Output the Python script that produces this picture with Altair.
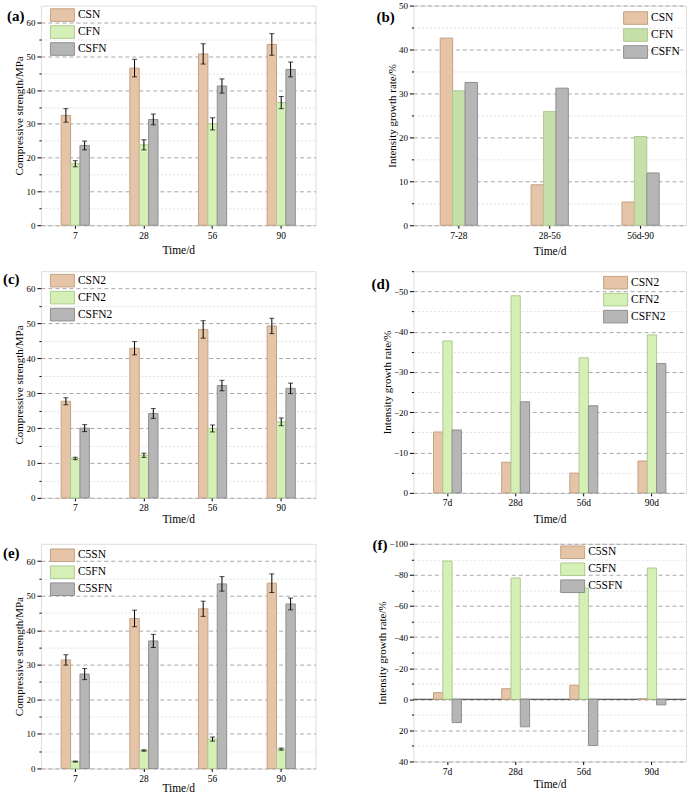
import altair as alt
import pandas as pd

FONT = "Liberation Serif"

days = ["7", "28", "56", "90"]
days_d = ["7d", "28d", "56d", "90d"]
periods = ["7-28", "28-56", "56d-90"]

# (a) compressive strength
a_series = ["CSN", "CFN", "CSFN"]
a_CSN = [32.5, 46.5, 50.7, 53.5]
a_CSN_err = [2.0, 2.6, 3.0, 3.2]
a_CFN = [18.2, 23.8, 30.0, 36.3]
a_CFN_err = [0.9, 1.5, 1.8, 1.8]
a_CSFN = [23.6, 31.3, 41.2, 46.1]
a_CSFN_err = [1.3, 1.6, 2.1, 2.2]

# (b) intensity growth rate
b_series = ["CSN", "CFN", "CSFN"]
b_CSN = [42.6, 9.2, 5.3]
b_CFN = [30.6, 25.9, 20.2]
b_CSFN = [32.5, 31.2, 11.9]

# (c) compressive strength
c_series = ["CSN2", "CFN2", "CSFN2"]
c_CSN2 = [27.7, 42.9, 48.3, 49.3]
c_CSN2_err = [1.0, 1.9, 2.5, 2.2]
c_CFN2 = [11.3, 12.2, 19.9, 21.8]
c_CFN2_err = [0.35, 0.6, 1.0, 1.1]
c_CSFN2 = [20.0, 24.2, 32.2, 31.4]
c_CSFN2_err = [1.0, 1.4, 1.5, 1.5]

# (d) intensity growth rate
d_series = ["CSN2", "CFN2", "CSFN2"]
d_CSN2 = [-15.1, -7.6, -4.9, -7.9]
d_CFN2 = [-37.7, -48.9, -33.5, -39.2]
d_CSFN2 = [-15.6, -22.6, -21.6, -32.1]

# (e) compressive strength
e_series = ["C5SN", "C5FN", "C5SFN"]
e_C5SN = [31.4, 43.4, 46.2, 53.6]
e_C5SN_err = [1.5, 2.4, 2.2, 2.7]
e_C5FN = [2.0, 5.2, 8.5, 5.6]
e_C5FN_err = [0.15, 0.2, 0.6, 0.3]
e_C5SFN = [27.3, 36.9, 53.4, 47.6]
e_C5SFN_err = [1.6, 1.9, 2.1, 1.7]

# (f) intensity growth rate
f_series = ["C5SN", "C5FN", "C5SFN"]
f_C5SN = [-4.3, -6.8, -9.0, -0.3]
f_C5FN = [-88.9, -78.0, -71.6, -84.4]
f_C5SFN = [15.0, 17.7, 29.7, 3.6]

TAN, TAN_S = "#E6C4A7", "#C4A284"
GREEN, GREEN_S = "#D6EFB6", "#AFCB93"
GREEN_B = "#C7DFA8"
GRAY, GRAY_S = "#B6B6B6", "#8F8F8F"


def make_df(cats, series, values, errs=None):
    rows = []
    for k, s in enumerate(series):
        for i, c in enumerate(cats):
            r = {"cat": c, "series": s, "value": values[k][i]}
            if errs is not None:
                r["lo"] = values[k][i] - errs[k][i]
                r["hi"] = values[k][i] + errs[k][i]
            rows.append(r)
    return pd.DataFrame(rows)


def cond(test, a, b):
    return {"condition": {"test": test, "value": a}, "value": b}


def panel(df, cats, series, fills, strokes, domain, reverse, tick_vals, major,
          ytitle, label, lx, ly, width, height, lgx, lgy, xtitle_pad,
          has_err=True, zero_rule=False):
    test = f"abs(datum.value % {major}) < 0.001"
    xscale = alt.Scale(paddingInner=0.59, paddingOuter=0.295)
    xaxis = alt.Axis(title="Time/d", labelAngle=0, labelFontSize=9.5, titleFontSize=11.5,
                     tickSize=3, labelPadding=2, titlePadding=xtitle_pad, domain=False,
                     grid=False, tickColor="black", labelColor="black",
                     titleColor="black", titleFontWeight="normal",
                     labelFont=FONT, titleFont=FONT)
    yscale = alt.Scale(domain=domain, reverse=reverse, nice=False, zero=False)
    yaxis = alt.Axis(title=ytitle, values=tick_vals,
                     labelExpr=f"{test} ? datum.label : ''",
                     grid=True,
                     gridDash=cond(test, [4, 3], [2, 2]),
                     gridColor=cond(test, "#A8A8A8", "#E2E2E2"),
                     tickSize=cond(test, 4, 2),
                     domain=False, tickColor="black", labelColor="black",
                     labelFontSize=9, titleFontSize=11, labelPadding=2,
                     titlePadding=1, titleColor="black", titleFontWeight="normal",
                     labelFont=FONT, titleFont=FONT)
    X = alt.X("cat:N", sort=cats, scale=xscale, axis=xaxis)
    XO = alt.XOffset("series:N", sort=series,
                     scale=alt.Scale(paddingInner=0, paddingOuter=0))
    leg = alt.Legend(title=None, orient="none", legendX=lgx + 6, legendY=lgy,
                     symbolType="M-2,-1.05H2V1.05H-2Z", symbolSize=144,
                     symbolStrokeWidth=1, labelFontSize=11.5, labelFont=FONT,
                     labelColor="black", rowPadding=0, padding=0, labelOffset=9,
                     labelLimit=0)
    base = alt.Chart(df)
    bars = base.mark_bar(strokeWidth=1).encode(
        x=X, xOffset=XO,
        y=alt.Y("value:Q", scale=yscale, axis=yaxis),
        color=alt.Color("series:N", sort=series,
                        scale=alt.Scale(domain=series, range=fills), legend=leg),
        stroke=alt.Stroke("series:N", sort=series,
                          scale=alt.Scale(domain=series, range=strokes), legend=leg),
    )
    layers = []
    if zero_rule:
        zr = alt.Chart(pd.DataFrame({"value": [0]})).mark_rule(
            color="#333333", strokeWidth=1).encode(
            y=alt.Y("value:Q", scale=yscale, axis=yaxis))
        layers.append(zr)
    layers.append(bars)
    if has_err:
        rule = base.mark_rule(color="black", strokeWidth=1).encode(
            x=X, xOffset=XO,
            y=alt.Y("lo:Q", scale=yscale, axis=yaxis), y2="hi:Q")
        cap_lo = base.mark_tick(color="black", size=5, thickness=1).encode(
            x=X, xOffset=XO, y=alt.Y("lo:Q", scale=yscale, axis=yaxis))
        cap_hi = base.mark_tick(color="black", size=5, thickness=1).encode(
            x=X, xOffset=XO, y=alt.Y("hi:Q", scale=yscale, axis=yaxis))
        layers += [rule, cap_lo, cap_hi]
    lab = alt.Chart(pd.DataFrame({"t": [label]})).mark_text(
        align="left", baseline="middle", fontSize=15, fontWeight="bold",
        font=FONT, color="black").encode(
        text="t:N", x=alt.value(lx), y=alt.value(ly))
    layers.append(lab)
    return alt.layer(*layers).properties(width=width, height=height)


ticks65 = list(range(0, 65, 5))
ticks50 = list(range(0, 55, 5))
ticksd = list(range(-55, 5, 5))
ticksf = list(range(-100, 50, 10))

pa = panel(make_df(days, a_series, [a_CSN, a_CFN, a_CSFN], [a_CSN_err, a_CFN_err, a_CSFN_err]),
           days, a_series, [TAN, GREEN, GRAY], [TAN_S, GREEN_S, GRAY_S],
           [0, 65], False, ticks65, 10, "Compressive strength/MPa", "(a)", -34, 10,
           275, 220, 9, 3, 5)
pb = panel(make_df(periods, b_series, [b_CSN, b_CFN, b_CSFN]),
           periods, b_series, [TAN, GREEN_B, GRAY], [TAN_S, GREEN_S, GRAY_S],
           [0, 50], False, ticks50, 10, "Intensity growth rate/%", "(b)", -37, 11,
           273, 220, 210, 6, 6, has_err=False)
pc = panel(make_df(days, c_series, [c_CSN2, c_CFN2, c_CSFN2], [c_CSN2_err, c_CFN2_err, c_CSFN2_err]),
           days, c_series, [TAN, GREEN, GRAY], [TAN_S, GREEN_S, GRAY_S],
           [0, 65], False, ticks65, 10, "Compressive strength/MPa", "(c)", -38, 8,
           275, 227, 9, 3, 1)
pd_ = panel(make_df(days_d, d_series, [d_CSN2, d_CFN2, d_CSFN2]),
            days_d, d_series, [TAN, GREEN, GRAY], [TAN_S, GREEN_S, GRAY_S],
            [-55, 0], True, ticksd, 10, "Intensity growth rate/%", "(d)", -42, 13,
            273, 222, 190, 5, 6, has_err=False)
pe = panel(make_df(days, e_series, [e_C5SN, e_C5FN, e_C5SFN], [e_C5SN_err, e_C5FN_err, e_C5SFN_err]),
           days, e_series, [TAN, GREEN, GRAY], [TAN_S, GREEN_S, GRAY_S],
           [0, 65], False, ticks65, 10, "Compressive strength/MPa", "(e)", -38, 9,
           275, 225, 9, 5, 0)
pf = panel(make_df(days_d, f_series, [f_C5SN, f_C5FN, f_C5SFN]),
           days_d, f_series, [TAN, GREEN, GRAY], [TAN_S, GREEN_S, GRAY_S],
           [-100, 40], True, ticksf, 20, "Intensity growth rate/%", "(f)", -41, 1,
           273, 218, 147, 2, 3, has_err=False, zero_rule=True)

chart = alt.concat(pa, pb, pc, pd_, pe, pf, columns=2,
                   spacing={"row": 46, "column": 98}, bounds="flush").resolve_scale(
    x="independent", y="independent", xOffset="independent",
    color="independent", stroke="independent",
).properties(
    padding={"left": 2, "top": 0, "right": 5, "bottom": 0},
    background="white",
).configure_view(stroke="black", strokeWidth=1).configure(font=FONT)

chart.save("out.html", embed_options={"renderer": "svg", "actions": False})
